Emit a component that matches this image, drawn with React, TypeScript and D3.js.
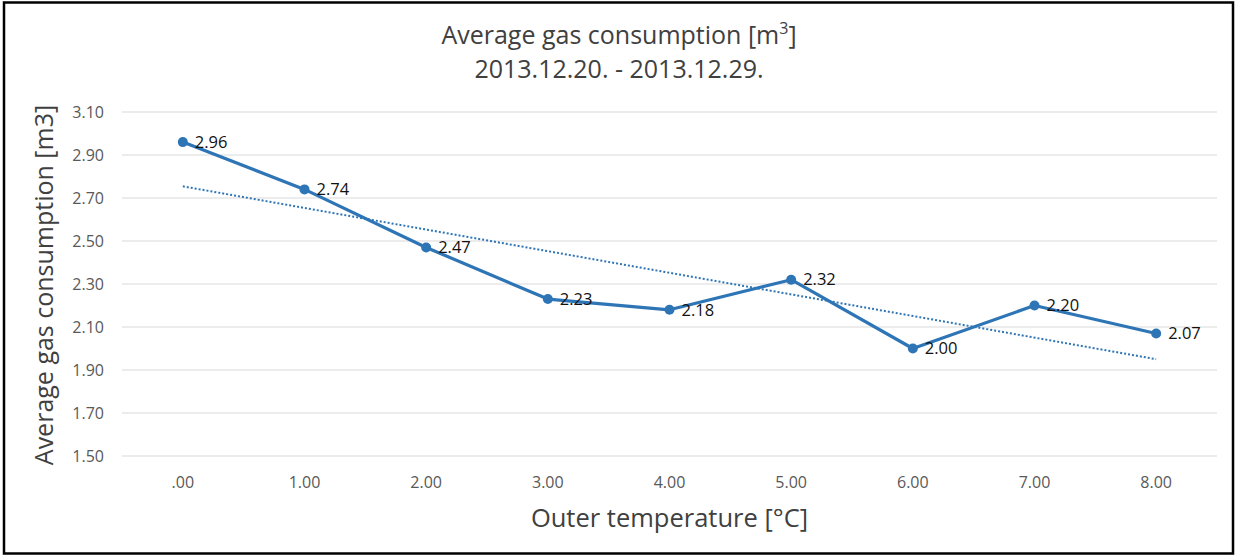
import React from "react";
import * as d3 from "d3";

const categories = [".00", "1.00", "2.00", "3.00", "4.00", "5.00", "6.00", "7.00", "8.00"];
const values = [2.96, 2.74, 2.47, 2.23, 2.18, 2.32, 2.0, 2.2, 2.07];
const yTicks = [1.5, 1.7, 1.9, 2.1, 2.3, 2.5, 2.7, 2.9, 3.1];

const W = 1235;
const H = 556;
const FONT = "'Open Sans', 'Noto Sans', sans-serif";
const BLUE = "#2E75B6";

export default function App() {
  const left = 122, right = 1217, top = 112, bottom = 456;
  const x = d3.scaleBand<string>().domain(categories).range([left, right]);
  const y = d3.scaleLinear().domain([1.5, 3.1]).range([bottom, top]);
  const cx = (c: string) => (x(c) as number) + x.bandwidth() / 2;

  const line = d3
    .line<number>()
    .x((_, i) => cx(categories[i]))
    .y((d) => y(d));

  // linear trendline (least squares on category index)
  const idx = values.map((_, i) => i);
  const mx = d3.mean(idx) as number;
  const my = d3.mean(values) as number;
  const slope =
    (d3.sum(idx, (i) => (i - mx) * (values[i] - my)) as number) /
    (d3.sum(idx, (i) => (i - mx) * (i - mx)) as number);
  const icpt = my - slope * mx;
  const t0 = icpt;
  const t1 = icpt + slope * (values.length - 1);

  return (
    <svg
      width={W}
      height={H}
      style={{ position: "absolute", left: 0, top: 0, background: "#fff" }}
      fontFamily={FONT}
    >
      <rect x={0} y={0} width={W} height={H} fill="#fff" />
      <rect x={4} y={2.5} width={1229} height={551} fill="none" stroke="#000" strokeWidth={2.5} />

      <text x={619} y={44} textAnchor="middle" fontSize={25} fill="#404040">
        Average gas consumption [m<tspan fontSize={16} dy={-10}>3</tspan>
        <tspan dy={10}>]</tspan>
      </text>
      <text x={619} y={78} textAnchor="middle" fontSize={25} fill="#404040">
        2013.12.20. - 2013.12.29.
      </text>

      {yTicks.map((t) => (
        <g key={t}>
          <line x1={left} x2={right} y1={y(t)} y2={y(t)} stroke="#d9d9d9" strokeWidth={1.2} />
          <text x={104} y={y(t)} dy="0.35em" textAnchor="end" fontSize={16} fill="#595959">
            {t.toFixed(2)}
          </text>
        </g>
      ))}

      {categories.map((c) => (
        <text key={c} x={cx(c)} y={y(1.5) + 26} dy="0.35em" textAnchor="middle" fontSize={16} fill="#595959">
          {c}
        </text>
      ))}

      <line
        x1={cx(categories[0])}
        y1={y(t0)}
        x2={cx(categories[categories.length - 1])}
        y2={y(t1)}
        stroke={BLUE}
        strokeWidth={2}
        strokeDasharray="2,2"
      />

      <path d={line(values) as string} fill="none" stroke={BLUE} strokeWidth={3.2} strokeLinejoin="round" />
      {values.map((v, i) => (
        <g key={i}>
          <circle cx={cx(categories[i])} cy={y(v)} r={5} fill={BLUE} />
          <text x={cx(categories[i]) + 12} y={y(v)} dy="0.35em" fontSize={16.5} fill="#111">
            {v.toFixed(2)}
          </text>
        </g>
      ))}

      <text x={(left + right) / 2} y={527} textAnchor="middle" fontSize={25.5} fill="#404040">
        Outer temperature [°C]
      </text>
      <text
        transform={`translate(53,${(top + bottom) / 2 + 1}) rotate(-90)`}
        textAnchor="middle"
        fontSize={25}
        fill="#404040"
      >
        Average gas consumption [m3]
      </text>
    </svg>
  );
}
